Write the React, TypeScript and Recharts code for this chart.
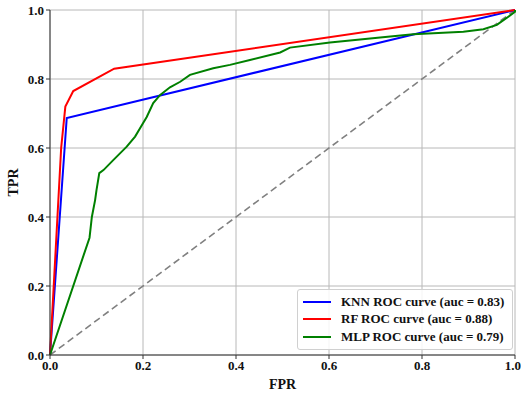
import React from "react";
import { LineChart, Line, XAxis, YAxis, CartesianGrid, Label } from "recharts";

const ticks = [0, 0.2, 0.4, 0.6, 0.8, 1.0];

const diagFpr = [0, 1];
const diagTpr = [0, 1];

const knnFpr = [0, 0.036, 1];
const knnTpr = [0, 0.687, 1];

const rfFpr = [0, 0.024, 0.033, 0.05, 0.138, 1];
const rfTpr = [0, 0.6, 0.72, 0.765, 0.83, 1];

const mlpFpr = [
  0, 0.085, 0.09, 0.097, 0.1, 0.106, 0.115, 0.136, 0.165, 0.183, 0.2, 0.208,
  0.222, 0.237, 0.258, 0.28, 0.301, 0.351, 0.387, 0.43, 0.495, 0.516, 0.602,
  0.71, 0.781, 0.889, 0.932, 0.961, 0.982, 1.0, 1.0,
];
const mlpTpr = [
  0, 0.34, 0.4, 0.449, 0.478, 0.527, 0.536, 0.565, 0.604, 0.633, 0.672, 0.69,
  0.73, 0.754, 0.776, 0.792, 0.812, 0.831, 0.841, 0.855, 0.877, 0.891, 0.906,
  0.92, 0.93, 0.937, 0.944, 0.957, 0.977, 0.995, 1.0,
];

const legendItems = [
  { label: "KNN ROC curve (auc = 0.83)", color: "#0000ff" },
  { label: "RF ROC curve (auc = 0.88)", color: "#ff0000" },
  { label: "MLP ROC curve (auc = 0.79)", color: "#008000" },
];

const toPoints = (xs: number[], ys: number[]) =>
  xs.map((x, i) => ({ fpr: x, tpr: ys[i] }));

const font = "'Liberation Serif', 'Times New Roman', serif";

const LegendBox = () => (
  <div
    style={{
      position: "absolute",
      left: 297,
      top: 289,
      width: 216,
      boxSizing: "border-box",
      background: "rgba(255,255,255,0.85)",
      border: "1px solid #d0d0d0",
      borderRadius: 3,
      padding: "3px 6px 3px 5px",
      fontFamily: font,
      fontWeight: "bold",
      fontSize: 13,
      color: "#111",
    }}
  >
    {legendItems.map((it) => (
      <div
        key={it.label}
        style={{ display: "flex", alignItems: "center", height: 17.5 }}
      >
        <span
          style={{
            display: "inline-block",
            width: 28,
            height: 2,
            background: it.color,
            marginRight: 10,
          }}
        />
        <span style={{ whiteSpace: "nowrap" }}>{it.label}</span>
      </div>
    ))}
  </div>
);

const App = () => {
  const tickStyle = {
    fontFamily: font,
    fontWeight: "bold" as const,
    fontSize: 13,
    fill: "#111",
  };
  return (
    <div style={{ position: "absolute", left: 0, top: 0, width: 521, height: 394 }}>
      <LineChart
        width={521}
        height={394}
        margin={{ top: 10, right: 6, left: 0, bottom: 0 }}
      >
        <CartesianGrid stroke="#b8b8b8" strokeWidth={1} />
        <XAxis
          dataKey="fpr"
          type="number"
          domain={[0, 1]}
          ticks={ticks}
          tickFormatter={(v: number) => v.toFixed(1)}
          height={39}
          tickSize={4}
          stroke="#333"
          tick={tickStyle}
          allowDuplicatedCategory={false}
        >
          <Label
            content={({ viewBox }: any) => (
              <text
                x={viewBox.x + viewBox.width / 2}
                y={389}
                textAnchor="middle"
                style={{ ...tickStyle, fontSize: 14 }}
              >
                FPR
              </text>
            )}
          />
        </XAxis>
        <XAxis
          xAxisId="top"
          orientation="top"
          type="number"
          domain={[0, 1]}
          ticks={ticks}
          tick={false}
          tickLine={false}
          height={0}
          stroke="#333"
        />
        <YAxis
          type="number"
          domain={[0, 1]}
          ticks={ticks}
          tickFormatter={(v: number) => v.toFixed(1)}
          width={50}
          tickSize={4}
          stroke="#333"
          tick={tickStyle}
        >
          <Label
            content={({ viewBox }: any) => {
              const cy = viewBox.y + viewBox.height / 2;
              return (
                <text
                  x={13}
                  y={cy}
                  transform={`rotate(-90 13 ${cy})`}
                  textAnchor="middle"
                  dominantBaseline="central"
                  style={{ ...tickStyle, fontSize: 14 }}
                >
                  TPR
                </text>
              );
            }}
          />
        </YAxis>
        <YAxis
          yAxisId="right"
          orientation="right"
          type="number"
          domain={[0, 1]}
          tick={false}
          tickLine={false}
          width={0}
          stroke="#333"
        />
        <Line
          data={toPoints(diagFpr, diagTpr)}
          dataKey="tpr"
          stroke="#808080"
          strokeWidth={1.6}
          strokeDasharray="7 4"
          dot={false}
          isAnimationActive={false}
        />
        <Line
          data={toPoints(knnFpr, knnTpr)}
          dataKey="tpr"
          stroke="#0000ff"
          strokeWidth={2}
          dot={false}
          isAnimationActive={false}
        />
        <Line
          data={toPoints(rfFpr, rfTpr)}
          dataKey="tpr"
          stroke="#ff0000"
          strokeWidth={2}
          dot={false}
          isAnimationActive={false}
        />
        <Line
          data={toPoints(mlpFpr, mlpTpr)}
          dataKey="tpr"
          stroke="#008000"
          strokeWidth={2}
          dot={false}
          isAnimationActive={false}
        />
      </LineChart>
      <LegendBox />
    </div>
  );
};

export default App;
